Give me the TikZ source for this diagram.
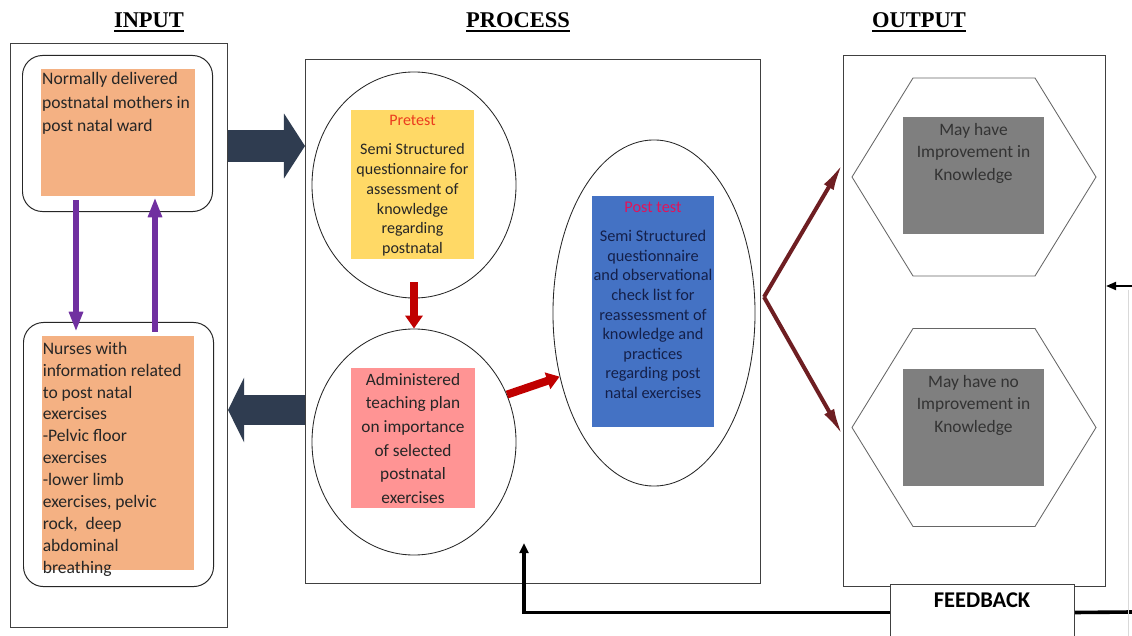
\documentclass[tikz,border=0pt]{standalone}
\usepackage{fontspec}
\setmainfont{Carlito}
\newfontfamily\titlefont{Liberation Serif}
\usepackage{tikz}
\usetikzlibrary{
    arrows.meta,
    shapes.geometric,
    positioning,
    calc
}
\definecolor{orangefill}{HTML}{F4B183}
\definecolor{yellowfill}{HTML}{FFD966}
\definecolor{pinkfill}{HTML}{FF9494}
\definecolor{bluefill}{HTML}{4472C4}
\definecolor{grayfill}{HTML}{7F7F7F}
\definecolor{arrowpurple}{HTML}{7030A0}
\definecolor{arrowslate}{HTML}{2F3C50}
\definecolor{arrowred}{HTML}{C00000}
\definecolor{arrowmaroon}{HTML}{6E1E22}
\definecolor{headred}{HTML}{EB3C1E}
\definecolor{headpink}{HTML}{E0145A}
\definecolor{posttext}{HTML}{14204A}
\newcommand{\ulttl}[1]{\setbox0\hbox{#1}\rlap{\rule[-3pt]{\wd0}{1.3pt}}\box0}
\tikzstyle{sectitle} = [
    anchor=base,
    inner sep=0pt,
    font=\titlefont\fontsize{16}{18}\selectfont\bfseries
]
\tikzstyle{panel} = [
    rectangle,
    draw=black!75,
    line width=0.7pt,
    anchor=north west,
    inner sep=0pt
]
\tikzstyle{roundbox} = [
    rectangle,
    rounded corners=0.5cm,
    draw=black!85,
    line width=0.7pt,
    anchor=north west,
    inner sep=0pt
]
\tikzstyle{fillbox} = [
    rectangle,
    inner sep=0pt
]
\tikzstyle{ellbox} = [
    ellipse,
    draw=black!85,
    line width=0.6pt,
    inner sep=0pt
]
\tikzstyle{bodytext} = [
    inner sep=0pt,
    align=center,
    text=black!85
]
\tikzstyle{hexline} = [
    draw=black!60,
    line width=0.6pt
]
\tikzstyle{blockarrow} = [
    draw=arrowslate,
    line width=0.8cm
]
\tikzstyle{purplearrow} = [
    -{Triangle[length=0.5cm,width=0.33cm]},
    draw=arrowpurple,
    line width=0.15cm
]
\tikzstyle{redarrow} = [
    -{Triangle[length=0.32cm,width=0.42cm]},
    draw=arrowred,
    line width=0.2cm
]
\tikzstyle{forkarrow} = [
    -{Latex[length=0.7cm,width=0.28cm]},
    draw=arrowmaroon,
    line width=0.1cm
]
\tikzstyle{fbline} = [
    draw=black,
    line width=0.09cm
]
\begin{document}
\begin{tikzpicture}[x=0.025cm, y=-0.025cm]
        \path[use as bounding box, fill=white] (0,0) rectangle (1132,636);

        % Titles
        \node[sectitle] (ttl_input) at (149,28) {\ulttl{INPUT}};
        \node[sectitle] (ttl_process) at (518,28) {\ulttl{PROCESS}};
        \node[sectitle] (ttl_output) at (919,28) {\ulttl{OUTPUT}};

        % Input side
        \node[panel, minimum width=5.425cm, minimum height=14.6cm] (input_frame) at (10,43) {};
        \node[roundbox, minimum width=4.75cm, minimum height=3.9cm] (mothers_round) at (22,55) {};
        \node[fillbox, fill=orangefill, minimum width=3.85cm, minimum height=3.175cm] (mothers_box) at (118,132.5) {};
        \node[bodytext, align=left, anchor=north west, font=\fontsize{12.5}{16.8}\selectfont]
            (mothers_text) at ([xshift=0.03cm,yshift=-0.08cm]mothers_box.north west)
            {Normally delivered\\postnatal mothers in\\post natal ward};
        \node[roundbox, minimum width=4.75cm, minimum height=6.6cm] (nurses_round) at (23,322) {};
        \node[fillbox, fill=orangefill, minimum width=3.8cm, minimum height=5.85cm] (nurses_box) at (118,453) {};
        \node[bodytext, align=left, anchor=north west, font=\fontsize{12.5}{15.6}\selectfont]
            (nurses_text) at ([xshift=0.02cm,yshift=-0.15cm]nurses_box.north west)
            {Nurses with\\information related\\to post natal\\exercises\\-Pelvic floor\\exercises\\-lower limb\\exercises, pelvic\\rock,\ \ deep\\abdominal\\breathing};

        % Process side
        \node[panel, minimum width=11.375cm, minimum height=13.1cm] (process_frame) at (305,59) {};
        \node[ellbox, minimum width=5.1cm, minimum height=5.65cm] (pretest_ell) at (414,185) {};
        \node[fillbox, fill=yellowfill, minimum width=3.075cm, minimum height=3.725cm] (pretest_box) at (412.5,184.5) {};
        \node[bodytext, anchor=north, font=\fontsize{11.4}{14}\selectfont]
            (pretest_text) at ([yshift=-0.13cm]pretest_box.north)
            {\textcolor{headred}{Pretest}\\[7pt]Semi Structured\\questionnaire for\\assessment of\\knowledge\\regarding\\postnatal};
        \node[ellbox, minimum width=5.1cm, minimum height=5.65cm] (admin_ell) at (414,442) {};
        \node[fillbox, fill=pinkfill, minimum width=3.1cm, minimum height=3.5cm] (admin_box) at (413,438) {};
        \node[bodytext, anchor=north, font=\fontsize{12.3}{16.8}\selectfont]
            (admin_text) at ([yshift=-0.13cm]admin_box.north)
            {Administered\\teaching plan\\on importance\\of selected\\postnatal\\exercises};
        \node[ellbox, minimum width=5.05cm, minimum height=8.65cm] (posttest_ell) at (654,313) {};
        \node[fillbox, fill=bluefill, minimum width=3.05cm, minimum height=5.775cm] (posttest_box) at (653,311.5) {};
        \node[bodytext, anchor=north, text=posttext, font=\fontsize{11.6}{13.9}\selectfont]
            (posttest_text) at ([yshift=-0.15cm]posttest_box.north)
            {\textcolor{headpink}{Post test}\\[7pt]Semi Structured\\questionnaire\\and observational\\check list for\\reassessment of\\knowledge and\\practices\\regarding post\\natal exercises};

        % Output side
        \node[panel, minimum width=6.55cm, minimum height=13.275cm] (output_frame) at (843,55) {};
        \foreach \cy in {177,427.5} {
            \draw[hexline] (852,\cy) -- (913,\cy-99) -- (1035,\cy-99) -- (1096,\cy)
                -- (1035,\cy+99) -- (913,\cy+99) -- cycle;
        }
        \node[fillbox, fill=grayfill, minimum width=3.525cm, minimum height=2.925cm] (improve_box) at (973.5,175.5) {};
        \node[bodytext, anchor=north, text=black!80, font=\fontsize{12.4}{16}\selectfont]
            (improve_text) at ([yshift=-0.15cm]improve_box.north)
            {May have\\Improvement in\\Knowledge};
        \node[fillbox, fill=grayfill, minimum width=3.525cm, minimum height=2.925cm] (noimprove_box) at (973.5,427.5) {};
        \node[bodytext, anchor=north, text=black!80, font=\fontsize{12.4}{16}\selectfont]
            (noimprove_text) at ([yshift=-0.15cm]noimprove_box.north)
            {May have no\\Improvement in\\Knowledge};

        % Feedback
        \node[panel, fill=white, minimum width=4.6cm, minimum height=1.4cm] (feedback_box) at (890,584) {};
        \node[inner sep=0pt, font=\fontsize{16}{18}\selectfont\bfseries] (feedback_text) at (982,600) {FEEDBACK};

        % Arrows
        \draw[blockarrow, -{Triangle[length=0.525cm,width=1.6cm]}]
            (input_frame.east |- 0,146) -- (process_frame.west |- 0,146);
        \draw[blockarrow, line width=0.75cm, -{Triangle[length=0.4cm,width=1.6cm]}]
            (process_frame.west |- 0,410) -- (input_frame.east |- 0,410);
        \draw[purplearrow] ($(mothers_box.south)+(-42,4)$) -- ($(nurses_box.north)+(-42,-4)$);
        \draw[purplearrow] ($(nurses_box.north)+(37,-4)$) -- ($(mothers_box.south)+(37,1)$);
        \draw[redarrow] ($(pretest_ell.south)+(0,-16)$) -- (admin_ell.north);
        \draw[redarrow] (admin_ell.27) -- (posttest_ell.214);
        \coordinate (fork) at (764,297);
        \draw[forkarrow] (fork) -- (output_frame.west |- 0,163);
        \draw[forkarrow] (fork) -- (output_frame.west |- 0,436);
        \draw[fbline, -{Triangle[length=0.25cm,width=0.22cm]}] (feedback_box.west) -| (524,543);
        \draw[fbline] (feedback_box.east) -- (1132,612);
        \draw[black!15, line width=0.4pt] (1128,290) -- (1128,636);
        \draw[line width=0.05cm, -{Triangle[length=0.25cm,width=0.2cm]}] (1132,286) -- (output_frame.east |- 0,286);
    \end{tikzpicture}
\end{document}
